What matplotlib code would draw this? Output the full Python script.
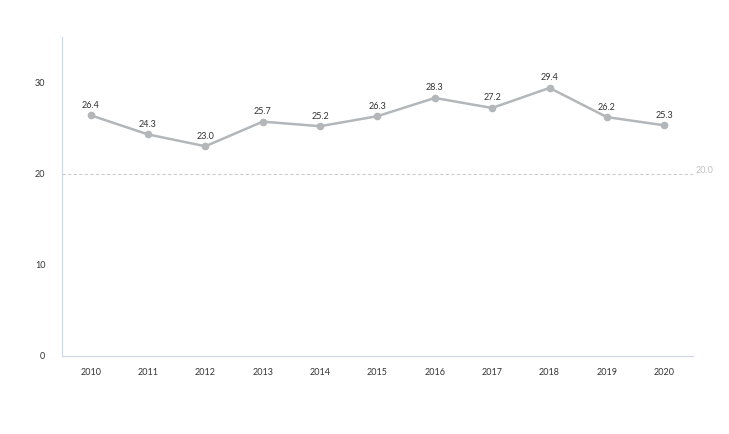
import matplotlib
matplotlib.use("Agg")
import matplotlib.pyplot as plt

years = [2010, 2011, 2012, 2013, 2014, 2015, 2016, 2017, 2018, 2019, 2020]
values = [26.4, 24.3, 23.0, 25.7, 25.2, 26.3, 28.3, 27.2, 29.4, 26.2, 25.3]
ref_value = 20.0
yticks = [0, 10, 20, 30]

plt.rcParams['font.family'] = ['Lato', 'DejaVu Sans']

fig = plt.figure(figsize=(7.29, 4.34), dpi=100)
ax = fig.add_axes([0.085, 0.18, 0.8655, 0.735])

line_color = '#b3b7ba'
ax.plot(years, values, color=line_color, lw=1.8, marker='o', ms=4.5,
        markerfacecolor=line_color, markeredgecolor=line_color, zorder=3)
for x, v in zip(years, values):
    ax.annotate(f"{v:.1f}", (x, v), xytext=(0, 4), textcoords='offset points',
                ha='center', va='bottom', fontsize=6.5, color='#333333')

ax.axhline(ref_value, color='#cccccc', lw=0.8, ls=(0, (3, 2)), zorder=1)
ax.annotate(f"{ref_value:.1f}", xy=(1, ref_value), xycoords=('axes fraction', 'data'),
            xytext=(2, 2), textcoords='offset points', ha='left', va='center',
            fontsize=6.5, color='#c0c0c0')

ax.set_xlim(2009.5, 2020.5)
ax.set_ylim(0, 35)
ax.set_xticks(years)
ax.set_xticklabels([str(y) for y in years])
ax.set_yticks(yticks)
ax.tick_params(length=0, labelsize=6.5, colors='#333333')
ax.tick_params(axis='x', pad=9)
ax.tick_params(axis='y', pad=12)

for s in ['top', 'right']:
    ax.spines[s].set_visible(False)
for s in ['left', 'bottom']:
    ax.spines[s].set_color('#ccd6e6')
    ax.spines[s].set_linewidth(0.8)

fig.savefig('out.png', dpi=100)
